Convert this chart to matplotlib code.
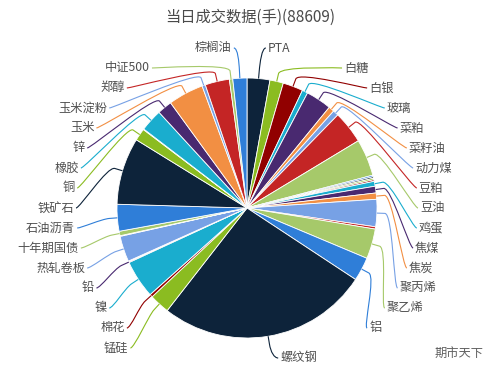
import numpy as np
import matplotlib
matplotlib.use('Agg')
import matplotlib.pyplot as plt
from matplotlib.path import Path
from matplotlib.patches import PathPatch

plt.rcParams['font.family'] = ['Noto Sans CJK SC', 'DejaVu Sans']

# Products clockwise from 12 o'clock; '' = slice drawn without a label
names = ['PTA', '白糖', '白银', '玻璃', '菜粕', '菜籽油', '动力煤', '豆粕', '豆油',
         '', '', '', '', '鸡蛋', '焦煤', '焦炭', '聚丙烯', '', '聚乙烯', '铝',
         '螺纹钢', '锰硅', '棉花', '镍', '铅', '', '热轧卷板', '', '十年期国债',
         '石油沥青', '铁矿石', '铜', '', '橡胶', '锌', '玉米', '玉米淀粉', '郑醇',
         '中证500', '棕榈油']
volumes = [2510, 1480, 2220, 620, 2830, 620, 620, 3590, 4060,
           170, 170, 170, 170, 540, 740, 690, 3000, 250, 3300, 2610,
           23260, 2220, 320, 4180, 100, 70, 2830, 70, 490,
           2950, 7380, 1350, 70, 2460, 1620, 3890, 370, 2680,
           370, 1550]

title = '当日成交数据(手)(88609)'
watermark = '期市天下'

# Highcharts 3 default colours, first slice uses the second one
palette = ['#2f7ed8', '#0d233a', '#8bbc21', '#910000', '#1aadce',
           '#492970', '#f28f43', '#77a1e5', '#c42525', '#a6c96a']
colors = [palette[(i + 1) % len(palette)] for i in range(len(volumes))]

W, H = 500, 378
cx, cy, r = 247, H - 208, 130
R = r + 37          # radius of the label ring
step = 20           # vertical spacing of label slots
label_top = H - 48
label_bottom = 20
brk = 8             # connector break just outside the pie
text_color = '#505050'

fig = plt.figure(figsize=(W / 100, H / 100), dpi=100)
ax = fig.add_axes([0, 0, 1, 1])
wedges, _ = ax.pie(volumes, colors=colors, startangle=90, counterclock=False,
                   center=(cx, cy), radius=r,
                   wedgeprops=dict(edgecolor='white', linewidth=0.6))
ax.set_xlim(0, W)
ax.set_ylim(0, H)
ax.set_aspect('equal')
ax.axis('off')

# split labels in right / left columns, like the highcharts layout
sides = {1: [], -1: []}
for w, name, col in zip(wedges, names, colors):
    if not name:
        continue
    phi = np.deg2rad((w.theta1 + w.theta2) / 2)
    side = 1 if np.cos(phi) >= 0 else -1
    sides[side].append((cy + R * np.sin(phi), phi, name, col))

for side, items in sides.items():
    items.sort(key=lambda t: -t[0])
    prev = None
    n = len(items)
    for k, (ny, phi, name, col) in enumerate(items):
        y = min(ny, label_top) if prev is None else min(ny, prev - step)
        y = max(y, label_bottom)
        prev = y
        if k == 0 or k == n - 1:
            dx = R * abs(np.cos(phi))
        else:
            dx = np.sqrt(max(R ** 2 - (y - cy) ** 2, 0))
        x = cx + side * dx

        ax.text(x + side * 6, y, name, ha='left' if side > 0 else 'right',
                va='center', fontsize=8.8, color=text_color)

        base = np.array([cx + r * np.cos(phi), cy + r * np.sin(phi)])
        bpt = base + brk * np.array([np.cos(phi), np.sin(phi)])
        verts = [(x + side * 4, y), (x, y), tuple(2 * bpt - base), tuple(bpt),
                 tuple(base)]
        codes = [Path.MOVETO, Path.CURVE4, Path.CURVE4, Path.CURVE4, Path.LINETO]
        ax.add_patch(PathPatch(Path(verts, codes), facecolor='none',
                               edgecolor=col, linewidth=0.8))

ax.text(W / 2, H - 17, title, ha='center', va='center', fontsize=11,
        color='#4a4a4a')
ax.text(459, H - 353, watermark, ha='center', va='center', fontsize=8.8,
        color='#606060')

fig.savefig('out.png', dpi=100)
